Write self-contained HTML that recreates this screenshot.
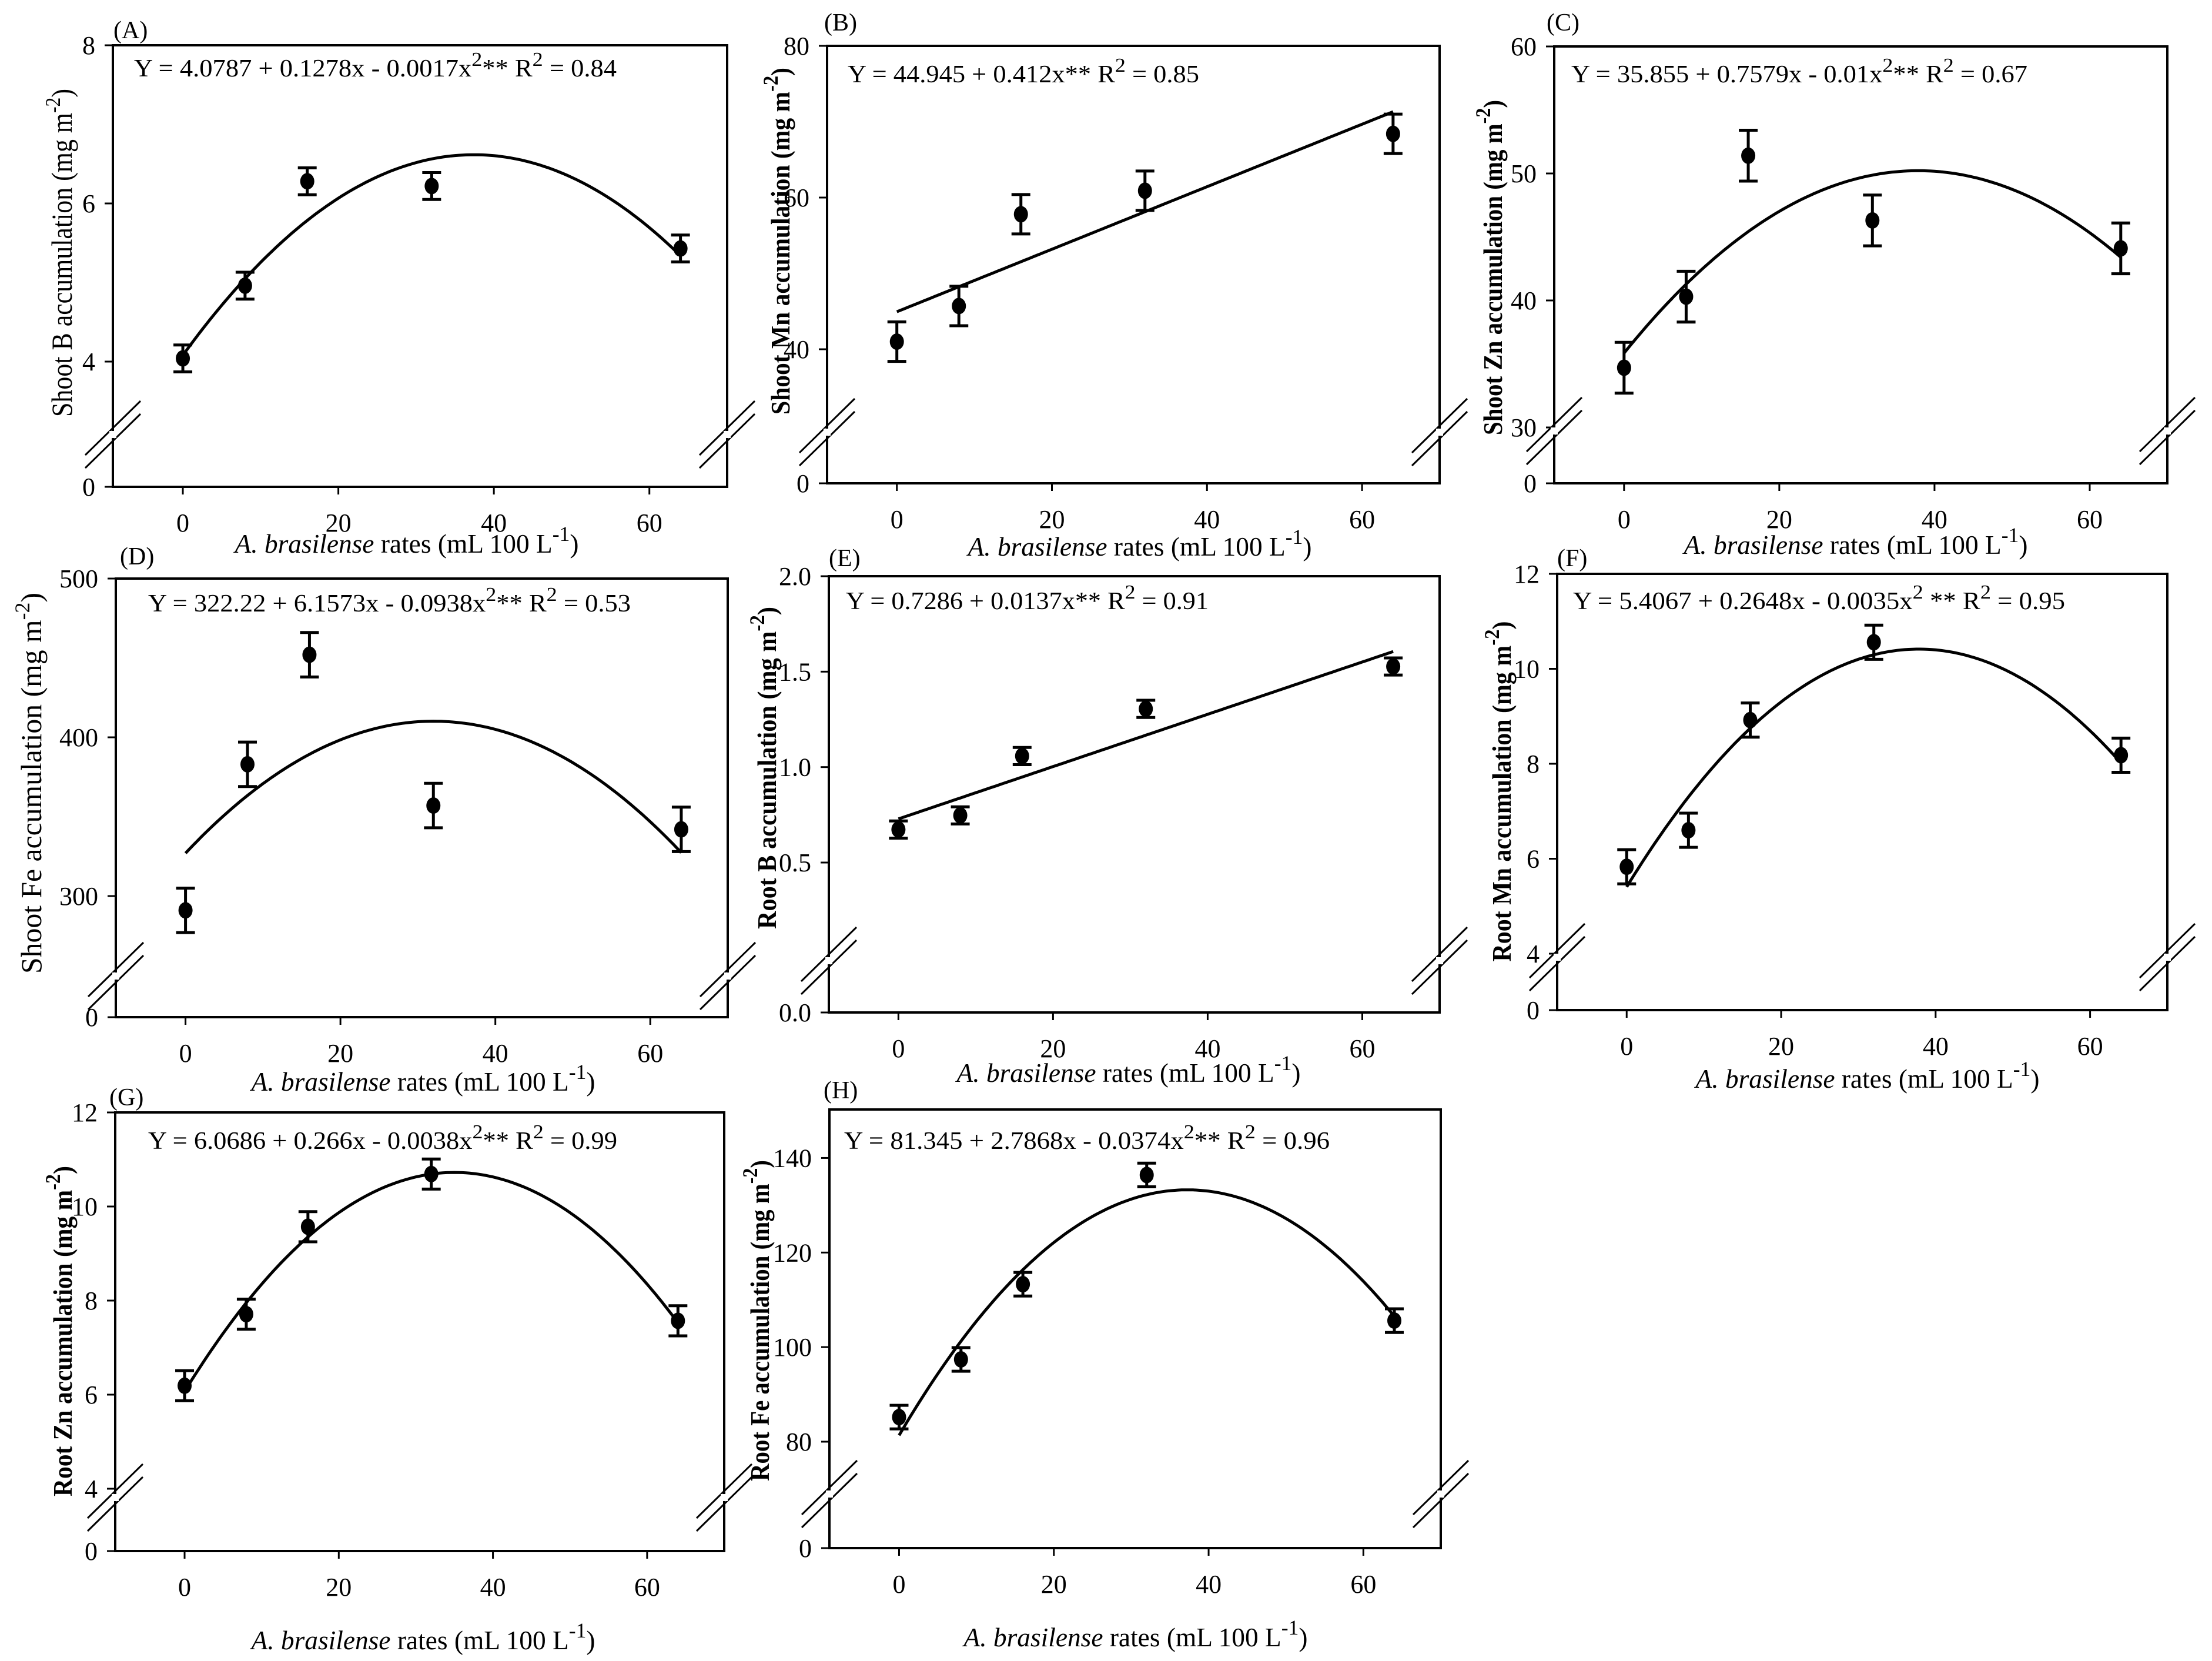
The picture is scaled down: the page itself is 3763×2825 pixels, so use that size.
<!DOCTYPE html>
<html><head><meta charset="utf-8">
<style>
html,body{margin:0;padding:0;background:#fff;}
svg{display:block;font-family:"Liberation Serif","DejaVu Serif",serif;}
</style></head>
<body>
<svg id="fig" xmlns="http://www.w3.org/2000/svg" width="3763" height="2825" viewBox="0 0 3763 2825"></svg>
<script>
// ---- data ----
const rates = [0, 8, 16, 32, 64];
const xTicks = [0, 20, 40, 60];
const meansA = [4.04, 4.96, 6.28, 6.22, 5.43]; const errA = [0.17, 0.17, 0.17, 0.17, 0.17];
const coefA = [4.08, 0.1355, -0.00181]; const yTicksA = [0, 4, 6, 8];
const meansB = [41.0, 45.7, 57.8, 60.9, 68.4]; const errB = [2.6, 2.6, 2.6, 2.6, 2.6];
const coefB = [44.945, 0.412, 0]; const yTicksB = [0, 40, 60, 80];
const meansC = [34.7, 40.3, 51.4, 46.3, 44.1]; const errC = [2.0, 2.0, 2.0, 2.0, 2.0];
const coefC = [35.855, 0.7579, -0.01]; const yTicksC = [0, 30, 40, 50, 60];
const meansD = [291, 383, 452, 357, 342]; const errD = [14, 14, 14, 14, 14];
const coefD = [327, 5.19, -0.081]; const yTicksD = [0, 300, 400, 500];
const meansE = [0.673, 0.747, 1.058, 1.305, 1.527]; const errE = [0.045, 0.045, 0.045, 0.045, 0.045];
const coefE = [0.7286, 0.0137, 0]; const yTicksE = [0.0, 0.5, 1.0, 1.5, 2.0];
const meansF = [5.83, 6.6, 8.92, 10.56, 8.18]; const errF = [0.36, 0.36, 0.36, 0.36, 0.36];
const coefF = [5.4067, 0.2648, -0.0035]; const yTicksF = [0, 4, 6, 8, 10, 12];
const meansG = [6.19, 7.71, 9.57, 10.69, 7.57]; const errG = [0.32, 0.32, 0.32, 0.32, 0.32];
const coefG = [6.0686, 0.266, -0.0038]; const yTicksG = [0, 4, 6, 8, 10, 12];
const meansH = [85.2, 97.4, 113.3, 136.4, 105.6]; const errH = [2.5, 2.5, 2.5, 2.5, 2.5];
const coefH = [81.345, 2.7868, -0.0374]; const yTicksH = [0, 80, 100, 120, 140];

// ---- layout ----
const NS = "http://www.w3.org/2000/svg";
const svg = document.getElementById('fig');
function mk(tag, attrs, parent) {
  const e = document.createElementNS(NS, tag);
  for (const k in attrs) e.setAttribute(k, attrs[k]);
  (parent || svg).appendChild(e);
  return e;
}
function richText(parent, str, supSize) {
  const parts = str.split(/(\^[^~]*~)/);
  parts.forEach(p => {
    if (!p) return;
    if (p[0] === '^') {
      const t = mk('tspan', {'baseline-shift': 'super', 'font-size': supSize}, parent);
      t.textContent = p.slice(1, -1);
    } else {
      const t = mk('tspan', {}, parent);
      t.textContent = p;
    }
  });
}
const panels = [
  {id:'a', lab:'(A)', L:192, R:1237, T:77, B:828, ymax:8, ylow:4, ylowY:615, brk:739, means:meansA, err:errA, coef:coefA, ticks:yTicksA, dec:0,
   eq:'Y = 4.0787 + 0.1278x - 0.0017x^2~** R^2~ = 0.84', eqX:228, eqY:130, eqW:821, labX:193, labY:65,
   yt:'Shoot B accumulation (mg m^-2~)', ytX:122, ytY:430, ytW:558, bold:false, xtY:940, xtC:692},
  {id:'b', lab:'(B)', L:1407, R:2449, T:78, B:822, ymax:80, ylow:40, ylowY:594, brk:735, means:meansB, err:errB, coef:coefB, ticks:yTicksB, dec:0,
   eq:'Y = 44.945 + 0.412x** R^2~ = 0.85', eqX:1442, eqY:140, eqW:598, labX:1402, labY:52,
   yt:'Shoot Mn accumulation (mg m^-2~)', ytX:1343, ytY:410, ytW:590, bold:true, xtY:945, xtC:1939},
  {id:'c', lab:'(C)', L:2644, R:3687, T:79, B:822, ymax:60, ylow:30, ylowY:727, brk:733, means:meansC, err:errC, coef:coefC, ticks:yTicksC, dec:0,
   eq:'Y = 35.855 + 0.7579x - 0.01x^2~** R^2~ = 0.67', eqX:2673, eqY:140, eqW:776, labX:2631, labY:52,
   yt:'Shoot Zn accumulation (mg m^-2~)', ytX:2555, ytY:455, ytW:570, bold:true, xtY:942, xtC:3157},
  {id:'d', lab:'(D)', L:197, R:1238, T:984, B:1730, ymax:500, ylow:300, ylowY:1524, brk:1660, means:meansD, err:errD, coef:coefD, ticks:yTicksD, dec:0,
   eq:'Y = 322.22 + 6.1573x - 0.0938x^2~** R^2~ = 0.53', eqX:252, eqY:1040, eqW:821, labX:204, labY:960,
   yt:'Shoot Fe accumulation (mg m^-2~)', ytX:70, ytY:1332, ytW:648, bold:false, xtY:1855, xtC:720},
  {id:'e', lab:'(E)', L:1410, R:2449, T:980, B:1722, ymax:2.0, ylow:0.5, ylowY:1467, brk:1634, means:meansE, err:errE, coef:coefE, ticks:yTicksE, dec:1,
   eq:'Y = 0.7286 + 0.0137x** R^2~ = 0.91', eqX:1439, eqY:1036, eqW:617, labX:1410, labY:963,
   yt:'Root B accumulation (mg m^-2~)', ytX:1320, ytY:1306, ytW:548, bold:true, xtY:1840, xtC:1920},
  {id:'f', lab:'(F)', L:2649, R:3687, T:976, B:1718, ymax:12, ylow:4, ylowY:1622, brk:1628, means:meansF, err:errF, coef:coefF, ticks:yTicksF, dec:0,
   eq:'Y = 5.4067 + 0.2648x - 0.0035x^2~ ** R^2~ = 0.95', eqX:2676, eqY:1036, eqW:837, labX:2649, labY:963,
   yt:'Root Mn accumulation (mg m^-2~)', ytX:2570, ytY:1346, ytW:579, bold:true, xtY:1850, xtC:3177},
  {id:'g', lab:'(G)', L:196, R:1232, T:1892, B:2638, ymax:12, ylow:4, ylowY:2532, brk:2547, means:meansG, err:errG, coef:coefG, ticks:yTicksG, dec:0,
   eq:'Y = 6.0686 + 0.266x - 0.0038x^2~** R^2~ = 0.99', eqX:252, eqY:1954, eqW:798, labX:186, labY:1880,
   yt:'Root Zn accumulation (mg m^-2~)', ytX:122, ytY:2264, ytW:562, bold:true, xtY:2805, xtC:720},
  {id:'h', lab:'(H)', L:1411, R:2451, T:1887, B:2633, ymax:150.25, ylow:80, ylowY:2452, brk:2541, means:meansH, err:errH, coef:coefH, ticks:yTicksH, dec:0,
   eq:'Y = 81.345 + 2.7868x - 0.0374x^2~** R^2~ = 0.96', eqX:1436, eqY:1954, eqW:826, labX:1401, labY:1868,
   yt:'Root Fe accumulation (mg m^-2~)', ytX:1308, ytY:2246, ytW:546, bold:true, xtY:2800, xtC:1932}
];
const XMIN = -9, XMAX = 70;

panels.forEach(p => {
  const g = mk('g', {});
  
  
  const xs = v => p.L + (v - XMIN) / (XMAX - XMIN) * (p.R - p.L);
  const ys = v => p.T + (p.ymax - v) / (p.ymax - p.ylow) * (p.ylowY - p.T);
  const tickY = v => v === 0 ? p.B : ys(v);
  const fr = mk('rect', {x:p.L, y:p.T, width:p.R-p.L, height:p.B-p.T, fill:'none', stroke:'#000', 'stroke-width':4}, g);
  
  
  p.ticks.forEach(t => {
    const y = tickY(t);
    mk('line', {x1:p.L-14, x2:p.L, y1:y, y2:y, stroke:'#000', 'stroke-width':3}, g);
    const tx = mk('text', {x:p.L-30, y:y+15, 'font-size':44, 'text-anchor':'end'}, g);
    
    
    tx.textContent = t.toFixed(p.dec);
  });
  xTicks.forEach(t => {
    const x = xs(t);
    mk('line', {x1:x, x2:x, y1:p.B, y2:p.B+13, stroke:'#000', 'stroke-width':3}, g);
    const tx = mk('text', {x:x, y:p.B+76, 'font-size':44, 'text-anchor':'middle'}, g);
    
    
    tx.textContent = String(t);
  });
  [p.L, p.R].forEach(bx => {
    [-11, 11].forEach(off => {
      const bl = mk('line', {x1:bx-47, y1:p.brk+off+46, x2:bx+47, y2:p.brk+off-46, stroke:'#000', 'stroke-width':3}, g);
      
      
    });
    mk('rect', {x:bx-6, y:p.brk-6, width:12, height:12, fill:'#fff'}, g);
  });
  let d = '';
  for (let i = 0; i <= 128; i++) {
    const xv = 64 * i / 128;
    const yv = p.coef[0] + p.coef[1]*xv + p.coef[2]*xv*xv;
    d += (i ? 'L' : 'M') + xs(xv).toFixed(1) + ' ' + ys(yv).toFixed(1);
  }
  const cv = mk('path', {d:d, fill:'none', stroke:'#000', 'stroke-width':5}, g);
  
  
  rates.forEach((r, i) => {
    const x = xs(r), y0 = ys(p.means[i] - p.err[i]), y1 = ys(p.means[i] + p.err[i]);
    const eb = mk('path', {d:`M${x} ${y0}V${y1}M${x-16} ${y0}H${x+16}M${x-16} ${y1}H${x+16}`, stroke:'#000', 'stroke-width':5, fill:'none'}, g);
    
    
    const c = mk('ellipse', {cx:x, cy:ys(p.means[i]), rx:12, ry:14, fill:'#000'}, g);
    
    
  });
  const eq = mk('text', {x:p.eqX, y:p.eqY, 'font-size':42, textLength:p.eqW, lengthAdjust:'spacingAndGlyphs'}, g);
  
  
  richText(eq, p.eq, 34);
  const lb = mk('text', {x:p.labX, y:p.labY, 'font-size':42}, g);
  
  
  lb.textContent = p.lab;
  const yt = mk('text', {x:0, y:0, 'font-size':p.bold ? 46 : 50, 'text-anchor':'middle', textLength:p.ytW, lengthAdjust:'spacingAndGlyphs',
    transform:`translate(${p.ytX},${p.ytY}) rotate(-90)`, 'font-weight':p.bold ? 'bold' : 'normal'}, g);
  
  
  richText(yt, p.yt, 36);
  const xt = mk('text', {x:p.xtC, y:p.xtY, 'font-size':46, 'text-anchor':'middle', textLength:585, lengthAdjust:'spacingAndGlyphs'}, g);
  
  
  const it = mk('tspan', {'font-style':'italic'}, xt); it.textContent = 'A. brasilense';
  richText(xt, ' rates (mL 100 L^-1~)', 36);
});
</script>
</body></html>
